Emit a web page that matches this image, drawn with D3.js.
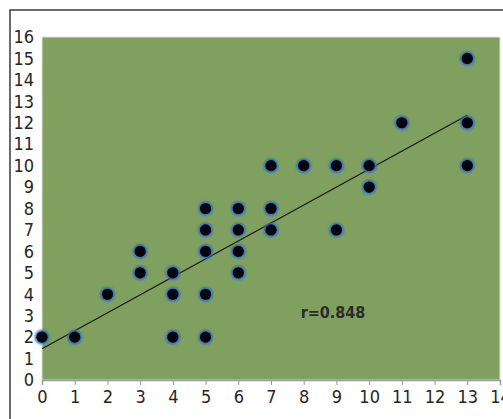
<!DOCTYPE html>
<html>
<head>
<meta charset="utf-8">
<script src="https://cdn.jsdelivr.net/npm/d3@7"></script>
<style>
  html, body { margin: 0; padding: 0; background: #fff; }
  svg { display: block; }
  .axis text { font-family: "Liberation Sans Narrow", "DejaVu Sans Condensed", "Roboto Condensed", sans-serif; fill: #262626; }
</style>
</head>
<body>
<svg id="chart" width="503" height="419"></svg>
<script>
// Observations (x, y)
const xValues = [0, 1, 2, 3, 3, 4, 4, 4, 5, 5, 5, 5, 5, 6, 6, 6, 6, 7, 7, 7, 8, 9, 9, 10, 10, 11, 13, 13, 13];
const yValues = [2, 2, 4, 6, 5, 5, 4, 2, 8, 7, 6, 4, 2, 8, 7, 6, 5, 10, 8, 7, 10, 10, 7, 10, 9, 12, 15, 12, 10];

// Fitted trend line end points
const trendX = [0, 13];
const trendY = [1.46, 12.35];

// Axis ticks
const xTicks = d3.range(0, 15);
const yTicks = d3.range(0, 17);

const corrLabel = "r=0.848";

const svg = d3.select("#chart");
const W = 503, H = 419;

const x = d3.scaleLinear().domain([0, 14]).range([42, 500]);
const y = d3.scaleLinear().domain([0, 16]).range([380, 37]);

// outer frame
svg.append("rect")
  .attr("x", 10).attr("y", 10)
  .attr("width", W + 20).attr("height", H + 20)
  .attr("fill", "none").attr("stroke", "#3a3a3a").attr("stroke-width", 1.5);

// plot background
svg.append("rect")
  .attr("x", x(0)).attr("y", y(16))
  .attr("width", x(14) - x(0)).attr("height", y(0) - y(16))
  .attr("fill", "#80a05f")
  .attr("stroke", "#dfe6d6").attr("stroke-width", 1);

// x axis
const xAxis = svg.append("g")
  .attr("class", "axis")
  .attr("transform", `translate(0,${y(0)})`)
  .call(d3.axisBottom(x).tickValues(xTicks).tickFormat(d3.format("d")).tickSize(5).tickPadding(5));
xAxis.select(".domain").attr("stroke", "#9a9a9a").attr("stroke-width", 1.5);
xAxis.selectAll(".tick line").attr("stroke", "#9a9a9a");
xAxis.selectAll("text").attr("font-size", 18);

// y axis
const yAxis = svg.append("g")
  .attr("class", "axis")
  .attr("transform", `translate(${x(0)},0)`)
  .call(d3.axisLeft(y).tickValues(yTicks).tickFormat(d3.format("d")).tickSize(0).tickPadding(8));
yAxis.select(".domain").remove();
yAxis.selectAll("text").attr("font-size", 18);

// glow for markers
const defs = svg.append("defs");
defs.append("filter").attr("id", "soft")
  .attr("x", "-50%").attr("y", "-50%").attr("width", "200%").attr("height", "200%")
  .append("feGaussianBlur").attr("stdDeviation", 0.8);

const pts = xValues.map((v, i) => ({ x: v, y: yValues[i] }));

// trend line
svg.append("line")
  .attr("x1", x(trendX[0])).attr("y1", y(trendY[0]))
  .attr("x2", x(trendX[1])).attr("y2", y(trendY[1]))
  .attr("stroke", "#1a1a1a").attr("stroke-width", 1.3);

// markers
const marks = svg.append("g");
marks.selectAll("circle.ring").data(pts).join("circle")
  .attr("class", "ring")
  .attr("cx", d => x(d.x)).attr("cy", d => y(d.y))
  .attr("r", 7.3)
  .attr("fill", "#2f6fbf")
  .attr("filter", "url(#soft)");
marks.selectAll("circle.core").data(pts).join("circle")
  .attr("class", "core")
  .attr("cx", d => x(d.x)).attr("cy", d => y(d.y))
  .attr("r", 5.6)
  .attr("fill", "#02020e");

// correlation label
svg.append("text")
  .attr("x", 333).attr("y", 318)
  .attr("text-anchor", "middle")
  .attr("font-family", "'Liberation Sans Narrow', 'DejaVu Sans Condensed', sans-serif")
  .attr("font-weight", "bold")
  .attr("font-size", 16)
  .attr("fill", "#2b2b2b")
  .text(corrLabel);
</script>
</body>
</html>
